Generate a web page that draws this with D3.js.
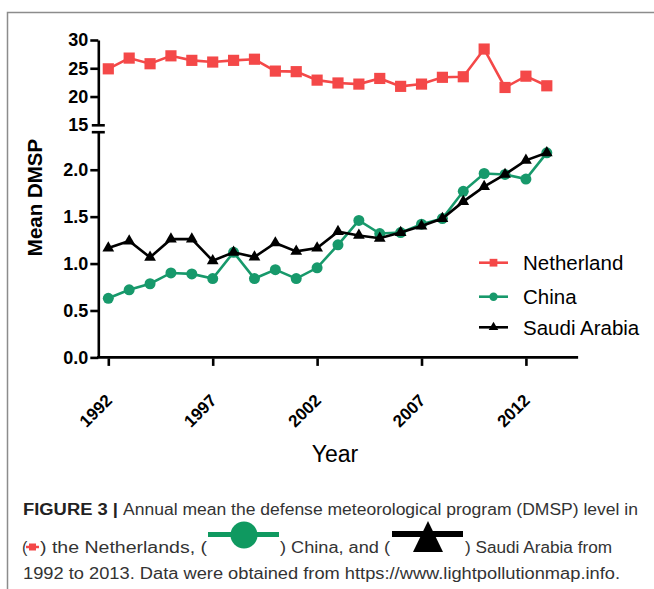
<!DOCTYPE html>
<html><head><meta charset="utf-8">
<script src="https://cdn.jsdelivr.net/npm/d3@7/dist/d3.min.js"></script>
<style>body{margin:0;background:#fff}svg{display:block}</style>
</head><body>
<svg id="c" width="654" height="589"></svg>
<script>
// ---- data ----
const years = [1992,1993,1994,1995,1996,1997,1998,1999,2000,2001,2002,2003,2004,2005,2006,2007,2008,2009,2010,2011,2012,2013];
const netherland = [24.9,26.8,25.8,27.2,26.4,26.1,26.4,26.6,24.5,24.4,22.9,22.4,22.2,23.2,21.8,22.2,23.4,23.5,28.4,21.6,23.6,21.9];
const china = [0.63,0.72,0.785,0.90,0.89,0.84,1.12,0.84,0.935,0.84,0.955,1.20,1.46,1.32,1.33,1.42,1.48,1.77,1.96,1.95,1.90,2.18];
const saudi = [1.165,1.24,1.066,1.26,1.26,1.03,1.12,1.07,1.22,1.13,1.165,1.34,1.30,1.27,1.33,1.40,1.48,1.66,1.82,1.95,2.10,2.18];
const seriesNames = ["Netherland","China","Saudi Arabia"];
const xTicks = [1992,1997,2002,2007,2012];
const topTicks = [30,25,20,15];
const bottomTicks = [0,0.5,1.0,1.5,2.0];

// ---- styles ----
const RED = "#f44848", GREEN = "#17996b", BLACK = "#000";
const FONT = "'Liberation Sans', Arial, Helvetica, sans-serif";

const svg = d3.select("#c");

// frame
svg.append("path").attr("d","M7.5,589V12.5H654").attr("fill","none").attr("stroke","#8c8c8c").attr("stroke-width",1.5);

const axisX = 98.3;
const x = d3.scaleLinear().domain([1992,2013]).range([108.3, 546.8]);
const yTop = d3.scaleLinear().domain([15,30]).range([124.8,40]);
const yBot = d3.scaleLinear().domain([0,2.4]).range([357.4,132.2]);

const g = svg.append("g");

function styleAxis(sel){
  sel.selectAll("path.domain").attr("stroke","#000").attr("stroke-width",2.6);
  sel.selectAll(".tick line").attr("stroke","#000").attr("stroke-width",2.6);
  sel.selectAll(".tick text").attr("font-family",FONT).attr("font-weight","bold").attr("font-size",18).attr("fill","#000");
}

// top y axis
const ta = g.append("g").attr("transform",`translate(${axisX},0)`)
  .call(d3.axisLeft(yTop).tickValues(topTicks).tickSize(8).tickSizeOuter(0).tickPadding(2).tickFormat(d3.format("d")));
styleAxis(ta);
ta.selectAll(".tick").filter(d=>d===15).select("line").attr("x1",-6.5).attr("x2",6.5);

// bottom y axis
const ba = g.append("g").attr("transform",`translate(${axisX},0)`)
  .call(d3.axisLeft(yBot).tickValues(bottomTicks).tickSize(8).tickSizeOuter(0).tickPadding(2).tickFormat(d3.format(".1f")));
styleAxis(ba);
ba.append("line").attr("x1",-6.5).attr("x2",6.5).attr("y1",yBot(2.4)).attr("y2",yBot(2.4)).attr("stroke","#000").attr("stroke-width",2.6);

// x axis
const xa = g.append("g").attr("transform",`translate(0,${yBot(0)})`)
  .call(d3.axisBottom(x).tickValues(xTicks).tickSize(8).tickSizeOuter(0).tickFormat(d3.format("d")));
styleAxis(xa);
xa.select("path.domain").attr("d",`M${axisX-1.3},0H${x(2014.5)}`);
xa.selectAll(".tick line").attr("y1",1).attr("y2",8.5);
xa.selectAll(".tick text").attr("font-size",17).attr("x",0).attr("y",0).attr("dy",0)
  .attr("text-anchor","end").attr("transform",`translate(4.5,${401.5-yBot(0)}) rotate(-45)`);

// axis titles
svg.append("text").attr("transform","translate(41.5,197.5) rotate(-90)").attr("text-anchor","middle")
  .attr("font-family",FONT).attr("font-weight","bold").attr("font-size",20.5).text("Mean DMSP");
svg.append("text").attr("x",335).attr("y",462).attr("text-anchor","middle")
  .attr("font-family",FONT).attr("font-size",23).text("Year");

// series
function drawSeries(values, yScale, color, symType, symSize){
  const pts = years.map((yr,i)=>[x(yr), yScale(values[i])]);
  g.append("path").attr("d", d3.line()(pts)).attr("fill","none").attr("stroke",color).attr("stroke-width",2.6);
  g.selectAll(null).data(pts).enter().append("path")
    .attr("transform",d=>`translate(${d[0]},${d[1]})`)
    .attr("d", d3.symbol().type(symType).size(symSize)).attr("fill",color);
}
drawSeries(netherland, yTop, RED, d3.symbolSquare, 125);
drawSeries(china, yBot, GREEN, d3.symbolCircle, 95);
drawSeries(saudi, yBot, BLACK, d3.symbolTriangle, 60);

// legend
const legColors=[RED,GREEN,BLACK], legSyms=[d3.symbolSquare,d3.symbolCircle,d3.symbolTriangle], legSizes=[60,55,40];
const legY=[262.7,296.7,327.3];
seriesNames.forEach((n,i)=>{
  const lg = svg.append("g").attr("transform",`translate(493.5,${legY[i]})`);
  lg.append("line").attr("x1",-14.5).attr("x2",14.5).attr("stroke",legColors[i]).attr("stroke-width",2.6);
  lg.append("path").attr("d",d3.symbol().type(legSyms[i]).size(legSizes[i])).attr("fill",legColors[i]);
  lg.append("text").attr("x",29.5).attr("y",7.3).attr("font-family",FONT).attr("font-size",20.5).attr("fill","#000").text(n);
});

// caption
const cap = svg.append("g").attr("font-family",FONT).attr("font-size",16).attr("fill","#333");
function capText(str,xp,yp,len,bold){
  const t = cap.append("text").attr("x",xp).attr("y",yp).text(str);
  if(len) t.attr("textLength",len).attr("lengthAdjust","spacingAndGlyphs");
  if(bold) t.attr("font-weight","bold").attr("fill","#222");
  return t;
}
capText("FIGURE 3 |",23,515,95,true);
capText("Annual mean the defense meteorological program (DMSP) level in",123,515,515);
capText("(",22,553);
capText(") the Netherlands, (",40,553,167);
capText(") China, and (",280,553,110);
capText(") Saudi Arabia from",465,553,147);
capText("1992 to 2013. Data were obtained from https://www.lightpollutionmap.info.",23,579,597);
// inline symbols
cap.append("line").attr("x1",26).attr("x2",39).attr("y1",547).attr("y2",547).attr("stroke",RED).attr("stroke-width",2.5);
cap.append("rect").attr("x",29).attr("y",543.5).attr("width",7).attr("height",7).attr("fill",RED);
cap.append("line").attr("x1",208).attr("x2",279).attr("y1",534.5).attr("y2",534.5).attr("stroke","#0f9960").attr("stroke-width",5);
cap.append("circle").attr("cx",244).attr("cy",535).attr("r",13.5).attr("fill","#0f9960");
cap.append("line").attr("x1",392).attr("x2",463).attr("y1",534).attr("y2",534).attr("stroke","#000").attr("stroke-width",6);
cap.append("path").attr("d","M428,521L443,552L413,552Z").attr("fill","#000");
</script>
</body></html>
